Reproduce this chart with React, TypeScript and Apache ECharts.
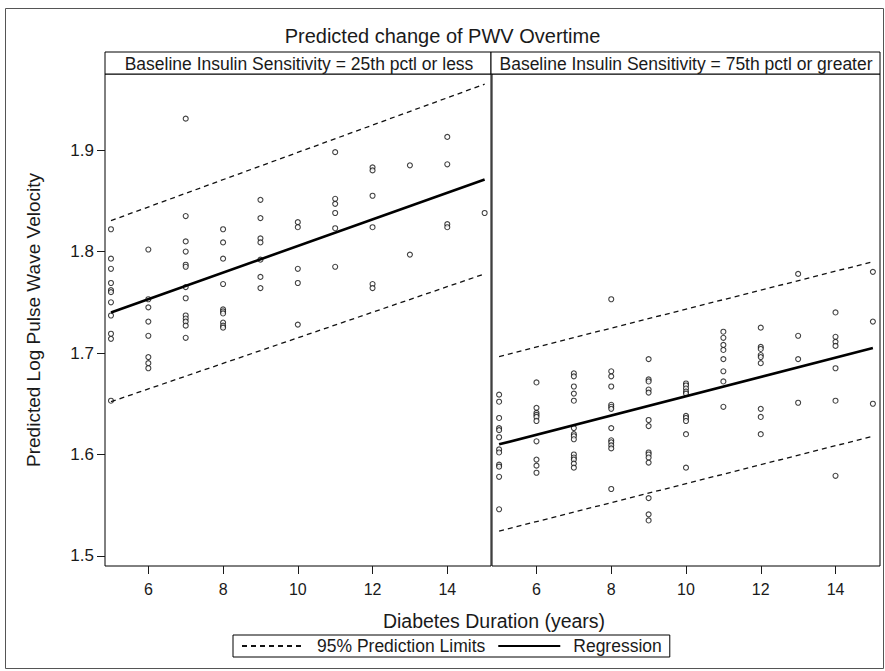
import React, { useEffect, useRef } from "react";
import * as echarts from "echarts";

const years = [5, 6, 7, 8, 9, 10, 11, 12, 13, 14, 15];

const leftValues: number[][] = [
  [1.822, 1.793, 1.783, 1.769, 1.762, 1.76, 1.75, 1.737, 1.719, 1.714, 1.653],
  [1.802, 1.753, 1.745, 1.731, 1.717, 1.696, 1.69, 1.685],
  [1.931, 1.835, 1.81, 1.8, 1.787, 1.785, 1.765, 1.754, 1.737, 1.734, 1.731, 1.727, 1.715],
  [1.822, 1.809, 1.793, 1.768, 1.743, 1.741, 1.739, 1.73, 1.727, 1.725],
  [1.851, 1.833, 1.813, 1.809, 1.792, 1.775, 1.764],
  [1.829, 1.824, 1.783, 1.769, 1.728],
  [1.898, 1.852, 1.847, 1.838, 1.823, 1.785],
  [1.883, 1.88, 1.855, 1.824, 1.768, 1.764],
  [1.885, 1.797],
  [1.913, 1.886, 1.827, 1.824],
  [1.838],
];

const rightValues: number[][] = [
  [1.659, 1.652, 1.636, 1.626, 1.624, 1.617, 1.605, 1.602, 1.59, 1.588, 1.578, 1.546],
  [1.671, 1.646, 1.641, 1.639, 1.637, 1.633, 1.613, 1.595, 1.589, 1.582],
  [1.68, 1.677, 1.667, 1.66, 1.653, 1.626, 1.62, 1.618, 1.615, 1.6, 1.597, 1.595, 1.591, 1.587],
  [1.753, 1.682, 1.677, 1.667, 1.649, 1.647, 1.645, 1.626, 1.614, 1.612, 1.609, 1.606, 1.566],
  [1.694, 1.674, 1.672, 1.664, 1.661, 1.634, 1.628, 1.602, 1.6, 1.597, 1.592, 1.557, 1.541, 1.535],
  [1.67, 1.668, 1.665, 1.662, 1.66, 1.638, 1.636, 1.633, 1.62, 1.587],
  [1.721, 1.715, 1.708, 1.703, 1.694, 1.682, 1.672, 1.647],
  [1.725, 1.706, 1.704, 1.698, 1.696, 1.69, 1.645, 1.637, 1.62],
  [1.778, 1.717, 1.694, 1.651],
  [1.74, 1.716, 1.711, 1.707, 1.685, 1.653, 1.579],
  [1.78, 1.731, 1.65],
];

// line endpoints at years 5 and 15
const lineYears = [5, 15];
const leftRegression = [1.74, 1.871];
const leftUpper = [1.8305, 1.965];
const leftLower = [1.652, 1.778];
const rightRegression = [1.61, 1.705];
const rightUpper = [1.6965, 1.79];
const rightLower = [1.5245, 1.618];

const yTicks = [1.5, 1.6, 1.7, 1.8, 1.9];
const xTicks = [6, 8, 10, 12, 14];

const panelTitles = [
  "Baseline Insulin Sensitivity = 25th pctl or less",
  "Baseline Insulin Sensitivity = 75th pctl or greater",
];
const chartTitle = "Predicted change of PWV Overtime";
const xTitle = "Diabetes Duration (years)";
const yTitle = "Predicted Log Pulse Wave Velocity";
const limitName = "95% Prediction Limits";
const regName = "Regression";

const FONT = "'Liberation Sans', Arial, sans-serif";
const INK = "#1a1a1a";

function toPoints(vals: number[][]) {
  const out: number[][] = [];
  vals.forEach((arr, i) => arr.forEach((v) => out.push([years[i], v])));
  return out;
}
function toLine(vals: number[]) {
  return lineYears.map((x, i) => [x, vals[i]]);
}

export default function App() {
  const ref = useRef<HTMLDivElement>(null);
  useEffect(() => {
    document.body.style.margin = "0";
    const chart = echarts.init(ref.current!, null, { renderer: "svg" });
    const grids = [
      { left: 105, top: 74, width: 386, height: 492 },
      { left: 492, top: 74, width: 388, height: 492 },
    ];
    const xRanges = [
      [4.84, 15.17],
      [4.81, 15.19],
    ];
    const mkX = (i: number) => ({
      type: "value",
      gridIndex: i,
      min: xRanges[i][0],
      max: xRanges[i][1],
      axisLine: { show: false },
      splitLine: { show: false },
      axisTick: {
        show: true,
        inside: false,
        length: 8,
        customValues: xTicks,
        lineStyle: { color: INK, width: 1 },
      },
      axisLabel: {
        show: true,
        customValues: xTicks,
        margin: 15,
        fontSize: 16,
        color: INK,
        fontFamily: FONT,
      },
    });
    const mkY = (i: number) => ({
      type: "value",
      gridIndex: i,
      min: 1.4901,
      max: 1.975,
      axisLine: { show: false },
      splitLine: { show: false },
      axisTick: {
        show: i === 0,
        length: 8,
        customValues: yTicks,
        lineStyle: { color: INK, width: 1 },
      },
      axisLabel: {
        show: i === 0,
        customValues: yTicks,
        margin: 11,
        fontSize: 17,
        color: INK,
        fontFamily: FONT,
        formatter: (v: number) => v.toFixed(1),
      },
      name: i === 0 ? yTitle : "",
      nameLocation: "middle",
      nameGap: 62,
      nameRotate: 90,
      nameTextStyle: { fontSize: 19, color: INK, fontFamily: FONT },
    });

    const series: any[] = [];
    const sets = [
      { vals: leftValues, reg: leftRegression, up: leftUpper, lo: leftLower },
      { vals: rightValues, reg: rightRegression, up: rightUpper, lo: rightLower },
    ];
    sets.forEach((s, i) => {
      series.push({
        type: "scatter",
        name: "Observed",
        xAxisIndex: i,
        yAxisIndex: i,
        data: toPoints(s.vals),
        symbol: "circle",
        symbolSize: 5,
        itemStyle: { color: "#ffffff", borderColor: "#111", borderWidth: 1.1 },
        z: 3,
      });
      [s.up, s.lo].forEach((arr) =>
        series.push({
          type: "line",
          name: limitName,
          xAxisIndex: i,
          yAxisIndex: i,
          data: toLine(arr),
          symbol: "none",
          showSymbol: false,
          itemStyle: { color: "#111" },
          lineStyle: { color: "#111", width: 1.3, type: [5, 4] },
          z: 4,
        })
      );
      series.push({
        type: "line",
        name: regName,
        xAxisIndex: i,
        yAxisIndex: i,
        data: toLine(s.reg),
        symbol: "none",
        showSymbol: false,
        itemStyle: { color: "#000" },
        lineStyle: { color: "#000", width: 2.6, type: "solid" },
        z: 5,
      });
    });

    const option: any = {
      animation: false,
      backgroundColor: "#ffffff",
      textStyle: { fontFamily: FONT },
      title: {
        text: chartTitle,
        left: "center",
        top: 21,
        textStyle: { fontSize: 20, fontWeight: "normal", color: INK, fontFamily: FONT },
      },
      grid: grids.map((g) => ({
        ...g,
        show: true,
        borderColor: "#000",
        borderWidth: 1,
        backgroundColor: "transparent",
      })),
      xAxis: [mkX(0), mkX(1)],
      yAxis: [mkY(0), mkY(1)],
      legend: {
        data: [limitName, regName],
        left: 233,
        top: 635,
        itemWidth: 62,
        itemHeight: 12,
        itemGap: 12,
        padding: [2, 8, 2, 8],
        borderColor: "#000",
        borderWidth: 1,
        itemStyle: { opacity: 0 },
        textStyle: {
          fontSize: 17.5,
          color: INK,
          fontFamily: FONT,
          padding: [0, 0, 0, 8],
        },
      },
      graphic: [
        {
          type: "rect",
          shape: { x: 5.5, y: 8.5, width: 878, height: 660 },
          style: { fill: "none", stroke: "#555", lineWidth: 1 },
          silent: true,
        },
        {
          type: "rect",
          shape: { x: 105, y: 52, width: 386, height: 22 },
          style: { fill: "#fff", stroke: "#000", lineWidth: 1 },
        },
        {
          type: "rect",
          shape: { x: 491, y: 52, width: 389, height: 22 },
          style: { fill: "#fff", stroke: "#000", lineWidth: 1 },
        },
        {
          type: "text",
          x: 299,
          y: 63.5,
          style: {
            text: panelTitles[0],
            fontSize: 17.5,
            fontFamily: FONT,
            fill: INK,
            textAlign: "center",
            textVerticalAlign: "middle",
          },
        },
        {
          type: "text",
          x: 686,
          y: 63.5,
          style: {
            text: panelTitles[1],
            fontSize: 17.5,
            fontFamily: FONT,
            fill: INK,
            textAlign: "center",
            textVerticalAlign: "middle",
          },
        },
        {
          type: "text",
          x: 494,
          y: 621,
          style: {
            text: xTitle,
            fontSize: 19.5,
            fontFamily: FONT,
            fill: INK,
            textAlign: "center",
            textVerticalAlign: "middle",
          },
        },
      ],
      series,
    };
    chart.setOption(option);
    return () => chart.dispose();
  }, []);
  return <div ref={ref} style={{ width: 885, height: 671 }} />;
}
